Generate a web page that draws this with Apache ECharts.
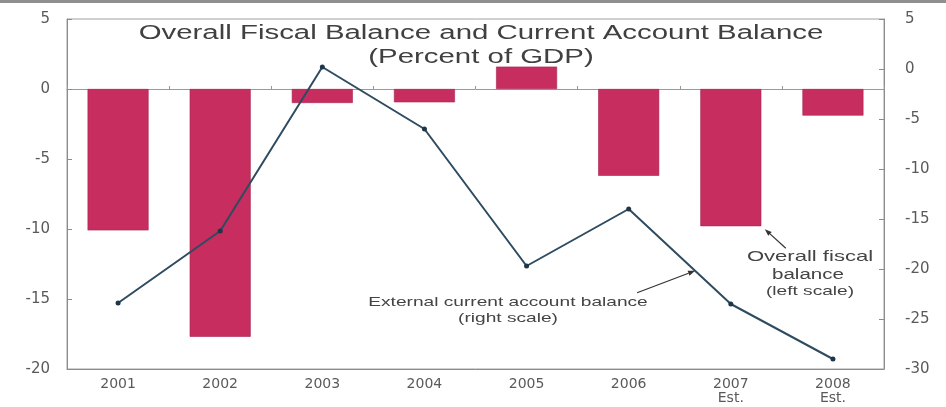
<!DOCTYPE html>
<html>
<head>
<meta charset="utf-8">
<script src="https://cdn.jsdelivr.net/npm/echarts@6/dist/echarts.min.js"></script>
<style>
  html, body { margin: 0; padding: 0; background: #fff; }
  #chart { width: 946px; height: 407px; }
</style>
</head>
<body>
<div id="chart"></div>
<script>
// Years on the category axis and their printed labels
const years = ['2001', '2002', '2003', '2004', '2005', '2006', '2007', '2008'];
const yearLabels = ['2001', '2002', '2003', '2004', '2005', '2006', '2007\nEst.', '2008\nEst.'];

// Overall fiscal balance, percent of GDP (left scale)
const fiscalBalance = [-10.1, -17.7, -1.0, -0.95, 1.6, -6.2, -9.8, -1.9];
// External current account balance, percent of GDP (right scale)
const currentAccount = [-23.4, -16.2, 0.2, -6.0, -19.7, -14.0, -23.5, -29.0];

// Tick values of the two value axes
const leftTicks = [-20, -15, -10, -5, 0, 5];
const rightTicks = [-30, -25, -20, -15, -10, -5, 0, 5];

const axisFont = 'DejaVu Sans';
const textFont = 'Liberation Sans, Arial, sans-serif';
const STRETCH = 1.47;   // horizontal stretch of the headline and note lettering

const chart = echarts.init(document.getElementById('chart'), null, { renderer: 'canvas' });

function valueAxis(ticks, position, margin) {
  return {
    type: 'value',
    position: position,
    min: ticks[0],
    max: ticks[ticks.length - 1],
    interval: ticks[1] - ticks[0],
    axisLine: { show: true, lineStyle: { color: '#8c8c8c', width: 1 } },
    axisTick: { show: true, inside: true, length: 5, lineStyle: { color: '#8c8c8c' } },
    splitLine: { show: false },
    axisLabel: { color: '#5a5a5a', fontFamily: axisFont, fontSize: 15, margin: margin }
  };
}

chart.setOption({
  animation: false,
  grid: { left: 67, right: 62, top: 19, bottom: 38, show: true, borderColor: '#a0a0a0', borderWidth: 1 },
  xAxis: [
    {
      type: 'category',
      data: years,
      position: 'bottom',
      axisLine: { onZero: false, lineStyle: { color: '#8c8c8c' } },
      axisTick: { show: false },
      axisLabel: {
        formatter: (v, i) => yearLabels[i],
        color: '#5a5a5a', fontFamily: axisFont, fontSize: 14, lineHeight: 14, margin: 8
      }
    },
    {
      // zero line of the left scale, with small ticks between the years
      type: 'category',
      data: years,
      position: 'top',
      axisLine: { onZero: true, onZeroAxisIndex: 0, lineStyle: { color: '#9a9a9a' } },
      axisTick: { show: true, length: 3, lineStyle: { color: '#9a9a9a' } },
      axisLabel: { show: false }
    }
  ],
  yAxis: [
    valueAxis(leftTicks, 'left', 17),
    valueAxis(rightTicks, 'right', 21)
  ],
  series: [
    {
      name: 'Overall fiscal balance',
      type: 'bar',
      xAxisIndex: 0,
      yAxisIndex: 0,
      data: fiscalBalance,
      barWidth: 61,
      itemStyle: { color: '#c72d5e', borderColor: '#a8254f', borderWidth: 0.6 }
    },
    {
      name: 'External current account balance',
      type: 'line',
      xAxisIndex: 0,
      yAxisIndex: 1,
      data: currentAccount,
      z: 5,
      symbol: 'circle',
      symbolSize: 5,
      lineStyle: { color: '#2e4b60', width: 2 },
      itemStyle: { color: '#1f3548' }
    }
  ]
});

// Headline and notes
function label(text, cx, cy, size, color) {
  return {
    type: 'text',
    x: cx, y: cy,
    scaleX: STRETCH,
    silent: true,
    z: 10,
    style: {
      text: text, fill: color || '#444', font: size + 'px ' + textFont,
      align: 'center', verticalAlign: 'middle'
    }
  };
}

function arrow(tail, tip) {
  const dx = tip[0] - tail[0], dy = tip[1] - tail[1];
  const len = Math.sqrt(dx * dx + dy * dy);
  const ux = dx / len, uy = dy / len;
  const head = 7, half = 2.6;
  const bx = tip[0] - ux * head, by = tip[1] - uy * head;
  return [
    {
      type: 'line', silent: true, z: 10,
      shape: { x1: tail[0], y1: tail[1], x2: bx, y2: by },
      style: { stroke: '#333', lineWidth: 1.2 }
    },
    {
      type: 'polygon', silent: true, z: 10,
      shape: { points: [tip, [bx - uy * half, by + ux * half], [bx + uy * half, by - ux * half]] },
      style: { fill: '#333' }
    }
  ];
}

// Arrow targets taken from the drawn data
const p6 = chart.convertToPixel({ xAxisIndex: 0, yAxisIndex: 1 }, [years[5], currentAccount[5]]);
const p7 = chart.convertToPixel({ xAxisIndex: 0, yAxisIndex: 1 }, [years[6], currentAccount[6]]);
const f = 0.65;
const lineTip = [p6[0] + (p7[0] - p6[0]) * f, p6[1] + (p7[1] - p6[1]) * f];
const bar7 = chart.convertToPixel({ xAxisIndex: 0, yAxisIndex: 0 }, [years[6], fiscalBalance[6]]);
const barTip = [bar7[0] + 30 + 4, bar7[1] + 3];

chart.setOption({
  graphic: [
    { type: 'rect', silent: true, shape: { x: 0, y: 0, width: 946, height: 3 }, style: { fill: '#8f8f8f' } },
    label('Overall Fiscal Balance and Current Account Balance', 481, 33, 20, '#404040'),
    label('(Percent of GDP)', 481, 57, 20, '#404040'),
    label('External current account balance', 508, 302, 13),
    label('(right scale)', 508, 318, 13),
    label('Overall fiscal', 810, 257, 15),
    label('balance', 808, 275, 14),
    label('(left scale)', 810, 291, 13)
  ].concat(
    arrow([lineTip[0] - 58, lineTip[1] + 22], lineTip),
    arrow([barTip[0] + 21, barTip[1] + 19], barTip)
  )
});
</script>
</body>
</html>
